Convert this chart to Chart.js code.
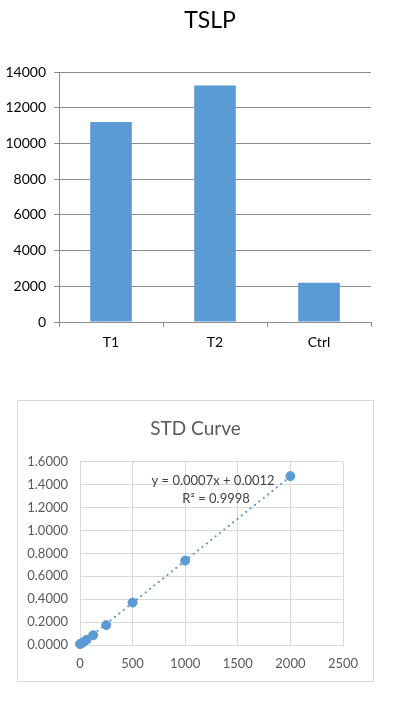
<!DOCTYPE html>
<html>
<head>
<meta charset="utf-8">
<script src="https://cdn.jsdelivr.net/npm/chart.js@4"></script>
<style>
  body { margin: 0; background: #fff; width: 400px; height: 712px; position: relative; overflow: hidden; }
  #top { position: absolute; left: 0; top: 0; width: 400px; height: 360px; }
  #frame { position: absolute; left: 17px; top: 400px; width: 357px; height: 282px; border: 1px solid #d9d9d9; box-sizing: border-box; }
  #bottom { position: absolute; left: 0; top: 0; width: 355px; height: 280px; }
</style>
</head>
<body>
<canvas id="top" width="400" height="360"></canvas>
<div id="frame"><canvas id="bottom" width="355" height="280"></canvas></div>
<script>
  'use strict';

  /* ===================== Data ===================== */

  const barLabels = ['T1', 'T2', 'Ctrl'];
  const barValues = [11200, 13250, 2200];

  const stdX = [0, 15.6, 31.25, 62.5, 125, 250, 500, 1000, 2000];
  const stdY = [0.008, 0.015, 0.025, 0.045, 0.085, 0.174, 0.371, 0.737, 1.475];

  const trendX = [0, 2000];
  const trendY = [0.0012, 1.4712];

  const trendText = ['y = 0.0007x + 0.0012', 'R\u00b2 = 0.9998'];

  const FONT = 'Lato, "Open Sans", sans-serif';
  Chart.defaults.font.family = FONT;
  Chart.defaults.animation = false;

  // empty right-hand axis, only there to reserve space so the title stays centred
  function spacer(w) {
    return {
      position: 'right',
      display: true,
      afterFit(s) { s.width = w; },
      grid: { display: false },
      border: { display: false },
      ticks: { display: false }
    };
  }

  /* ===================== TSLP bar chart ===================== */

  // Excel centres this title a little right of the canvas middle
  const tslpTitle = {
    id: 'tslpTitle',
    afterDraw(chart) {
      const { ctx, chartArea } = chart;
      ctx.save();
      ctx.fillStyle = '#000';
      ctx.font = '23px ' + FONT;
      ctx.textAlign = 'center';
      ctx.textBaseline = 'middle';
      ctx.fillText('TSLP', (chartArea.left + chartArea.right) / 2 - 5, 21);
      ctx.restore();
    }
  };

  new Chart(document.getElementById('top'), {
    type: 'bar',
    plugins: [tslpTitle],
    data: {
      labels: barLabels,
      datasets: [{
        data: barValues,
        backgroundColor: '#5b9bd5',
        barPercentage: 0.4,
        categoryPercentage: 1
      }]
    },
    options: {
      responsive: false,
      layout: { padding: { left: 0, right: 0, top: 72, bottom: 0 } },
      plugins: {
        legend: { display: false },
        tooltip: { enabled: false },
        title: { display: false }
      },
      scales: {
        x: {
          afterFit(s) { s.height = 38; },
          grid: { drawOnChartArea: false, drawTicks: true, tickLength: 5, color: '#8c8c8c', offset: true },
          border: { color: '#8c8c8c' },
          ticks: { color: '#000', font: { size: 14 }, padding: 7 }
        },
        y: {
          min: 0, max: 14000,
          afterFit(s) { s.width = 59; },
          grid: { color: '#8c8c8c', tickLength: 5 },
          border: { color: '#8c8c8c' },
          ticks: { stepSize: 2000, color: '#000', font: { size: 14 }, padding: 8, callback: v => String(v) }
        },
        yr: spacer(29)
      }
    }
  });

  /* ===================== STD curve ===================== */

  const trendLabel = {
    id: 'trendLabel',
    afterDatasetsDraw(chart) {
      const { ctx, scales } = chart;
      const cx = scales.x.getPixelForValue(1265);
      ctx.save();
      ctx.fillStyle = '#404040';
      ctx.font = '13px ' + FONT;
      ctx.textAlign = 'center';
      ctx.textBaseline = 'middle';
      ctx.fillText(trendText[0], cx, scales.y.getPixelForValue(1.435));
      ctx.fillText(trendText[1], cx + 3, scales.y.getPixelForValue(1.278));
      ctx.restore();
    }
  };

  new Chart(document.getElementById('bottom'), {
    type: 'scatter',
    plugins: [trendLabel],
    data: {
      datasets: [
        {
          type: 'line',
          data: trendX.map((x, i) => ({ x, y: trendY[i] })),
          borderColor: '#5b9bd5',
          borderWidth: 2.2,
          borderDash: [0.1, 5.5],
          borderCapStyle: 'round',
          pointRadius: 0,
          fill: false,
          clip: false
        },
        {
          data: stdX.map((x, i) => ({ x, y: stdY[i] })),
          backgroundColor: '#5b9bd5',
          borderColor: '#5b9bd5',
          pointRadius: 4.5,
          clip: false
        }
      ]
    },
    options: {
      responsive: false,
      layout: { padding: 0 },
      plugins: {
        legend: { display: false },
        tooltip: { enabled: false },
        title: {
          display: true,
          text: 'STD Curve',
          color: '#595959',
          font: { size: 19, weight: 'normal' },
          padding: { top: 16, bottom: 22 }
        }
      },
      scales: {
        x: {
          type: 'linear',
          min: 0, max: 2500,
          afterFit(s) { s.height = 36; },
          grid: { color: '#d9d9d9', drawTicks: false },
          border: { color: '#d9d9d9' },
          ticks: { stepSize: 500, color: '#595959', font: { size: 13 }, padding: 11, callback: v => String(v) }
        },
        y: {
          min: 0, max: 1.6,
          afterFit(s) { s.width = 62; },
          grid: { color: '#d9d9d9', drawTicks: false },
          border: { color: '#d9d9d9' },
          ticks: {
            stepSize: 0.2,
            color: '#595959',
            font: { size: 13 },
            padding: 12,
            callback: v => v.toFixed(4)
          }
        },
        yr: spacer(30)
      }
    }
  });
</script>
</body>
</html>
